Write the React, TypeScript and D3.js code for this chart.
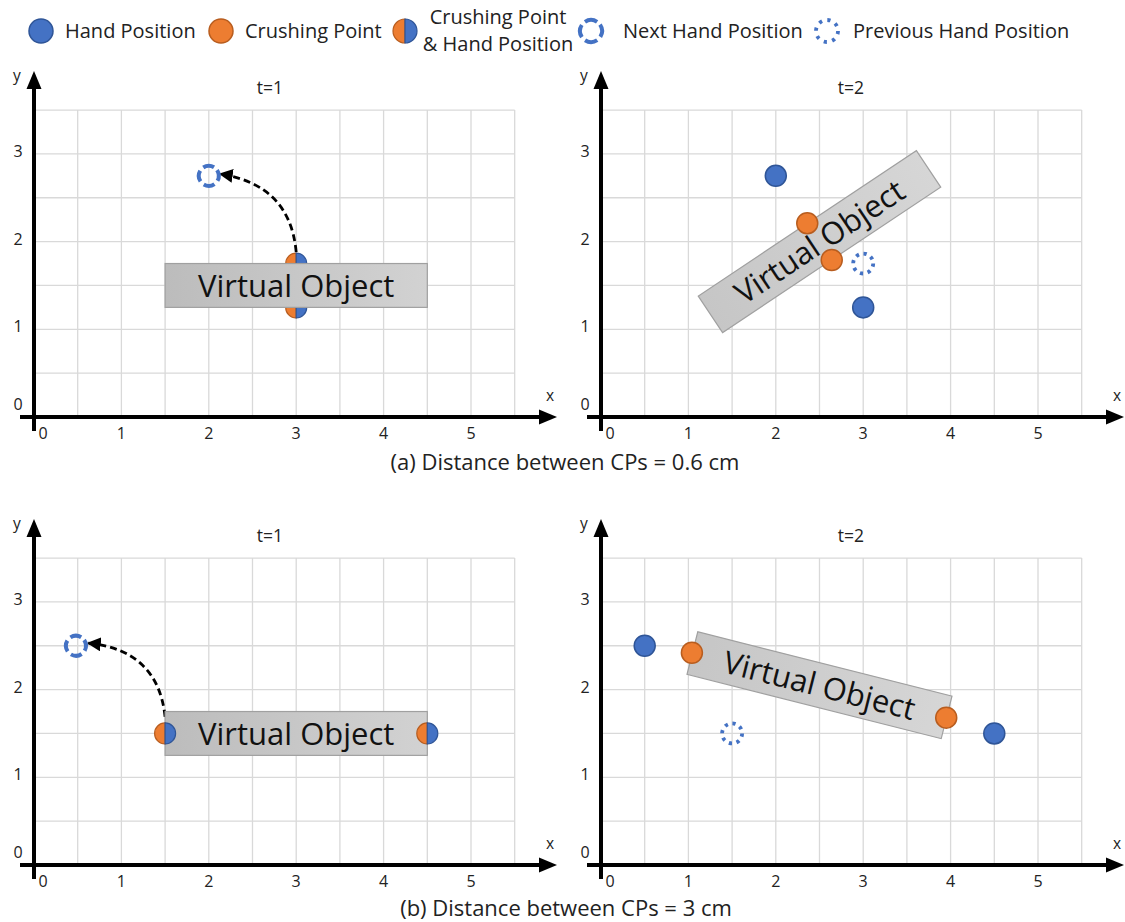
import React from "react";
import * as d3 from "d3";

// ---------- data ----------
const xTicks = [0, 1, 2, 3, 4, 5];
const yTicks = [0, 1, 2, 3];
const gridX = d3.range(0, 5.51, 0.5);
const gridY = d3.range(0, 3.51, 0.5);

const legendItems = ["Hand Position", "Crushing Point", "Crushing Point|& Hand Position", "Next Hand Position", "Previous Hand Position"];
const captions = ["(a) Distance between CPs = 0.6 cm", "(b) Distance between CPs = 3 cm"];
const titles = ["t=1", "t=2", "t=1", "t=2"];

// per panel data (x, y in chart units)
const handPts = [[], [[2, 2.75], [3, 1.25]], [], [[0.5, 2.5], [4.5, 1.5]]];
const crushPts = [[], [[2.36, 2.21], [2.64, 1.79]], [], [[1.04, 2.42], [3.95, 1.68]]];
const splitPts = [[[3, 1.75], [3, 1.25]], [], [[1.5, 1.5], [4.5, 1.5]], []];
const nextPts = [[[2, 2.75]], [], [[0.48, 2.5]], []];
const prevPts = [[], [[3, 1.75]], [], [[1.5, 1.5]]];
// virtual object: center x, center y, width, height, angle (deg, ccw)
const objects = [
  [3, 1.5, 3, 0.5, 0],
  [2.5, 2.0, 3, 0.5, 33.7],
  [3, 1.5, 3, 0.5, 0],
  [2.5, 2.05, 3, 0.5, -14.2],
];
// arrows: from, control, to
const arrows = [
  [[3, 1.88], [2.93, 2.65], [2.13, 2.77]],
  null,
  [[1.5, 1.69], [1.42, 2.45], [0.62, 2.53]],
  null,
];
const titleX = [2.7, 2.86, 2.7, 2.86];
const pointsUnderObject = [true, false, false, false];

// ---------- layout ----------
const W = 1125, H = 922;
const origins = [[34, 417], [601, 417], [34, 865], [601, 865]];
const UX = 87.4, UY = 87.7;
const FONT = "'Open Sans', sans-serif";
const BLUE = "#4472c4", BLUE_D = "#2f5597";
const ORANGE = "#ed7d31", ORANGE_D = "#b85d1f";
const R = 10.5;
const TICK_FS = 16;

function HalfCircle({ cx, cy, r }: { cx: number; cy: number; r: number }) {
  return (
    <g transform={`translate(${cx},${cy})`}>
      <path d={`M0,${-r} A${r},${r} 0 0 0 0,${r} Z`} fill={ORANGE} stroke={ORANGE_D} strokeWidth={1.2} />
      <path d={`M0,${-r} A${r},${r} 0 0 1 0,${r} Z`} fill={BLUE} stroke={BLUE_D} strokeWidth={1.2} />
    </g>
  );
}

function Dot({ cx, cy, r, fill, stroke }: any) {
  return <circle cx={cx} cy={cy} r={r} fill={fill} stroke={stroke} strokeWidth={1.5} />;
}

function NextCircle({ cx, cy, r }: any) {
  const c = 2 * Math.PI * r;
  return (
    <circle cx={cx} cy={cy} r={r} fill="none" stroke={BLUE} strokeWidth={4}
      strokeDasharray={`${c / 4 - 4.5} 4.5`} transform={`rotate(-35 ${cx} ${cy})`} />
  );
}

function PrevCircle({ cx, cy, r }: any) {
  const c = 2 * Math.PI * r;
  return (
    <circle cx={cx} cy={cy} r={r} fill="none" stroke={BLUE} strokeWidth={3.8}
      strokeDasharray={`3.2 ${c / 8 - 3.2}`} />
  );
}

function Panel({ i }: { i: number }) {
  const [ox, oy] = origins[i];
  const x = d3.scaleLinear().domain([0, 1]).range([ox, ox + UX]);
  const y = d3.scaleLinear().domain([0, 1]).range([oy, oy - UY]);
  const [ocx, ocy, ow, oh, oa] = objects[i];
  const pw = ow * UX, ph = oh * UY;
  const arrow = arrows[i];
  let arrowD = "";
  if (arrow) {
    const p = d3.path();
    p.moveTo(x(arrow[0][0]), y(arrow[0][1]));
    p.quadraticCurveTo(x(arrow[1][0]), y(arrow[1][1]), x(arrow[2][0]), y(arrow[2][1]));
    arrowD = p.toString();
  }
  const points = (
    <g>
      {splitPts[i].map((p, k) => <HalfCircle key={"s" + k} cx={x(p[0])} cy={y(p[1])} r={R} />)}
      {handPts[i].map((p, k) => <Dot key={"h" + k} cx={x(p[0])} cy={y(p[1])} r={R} fill={BLUE} stroke={BLUE_D} />)}
      {crushPts[i].map((p, k) => <Dot key={"c" + k} cx={x(p[0])} cy={y(p[1])} r={R} fill={ORANGE} stroke={ORANGE_D} />)}
      {nextPts[i].map((p, k) => <NextCircle key={"n" + k} cx={x(p[0])} cy={y(p[1])} r={10} />)}
      {prevPts[i].map((p, k) => <PrevCircle key={"p" + k} cx={x(p[0])} cy={y(p[1])} r={10} />)}
    </g>
  );
  const obj = (
    <g transform={`translate(${x(ocx)},${y(ocy)}) rotate(${-oa})`}>
      <rect x={-pw / 2} y={-ph / 2} width={pw} height={ph} fill={oa === 0 ? "url(#voGrad)" : "url(#voGrad2)"} stroke="#a0a0a0" strokeWidth={1.2} />
    </g>
  );
  const objText = (
    <g transform={`translate(${x(ocx)},${y(ocy)}) rotate(${-oa})`}>
      <text x={0} y={0} dy="0.36em" textAnchor="middle" fontFamily={FONT} fontSize={31} fill="#111">Virtual Object</text>
    </g>
  );
  return (
    <g>
      {/* grid */}
      {gridX.map((g) => (
        <line key={"gx" + g} x1={x(g)} x2={x(g)} y1={y(0)} y2={y(3.5)} stroke="#d9d9d9" strokeWidth={1.3} />
      ))}
      {gridY.map((g) => (
        <line key={"gy" + g} x1={x(0)} x2={x(5.5)} y1={y(g)} y2={y(g)} stroke="#d9d9d9" strokeWidth={1.3} />
      ))}
      {/* axes */}
      <line x1={ox - 14} x2={ox + 510} y1={oy} y2={oy} stroke="#000" strokeWidth={4} />
      <path d={`M${ox + 523},${oy} L${ox + 505},${oy - 7.5} L${ox + 505},${oy + 7.5} Z`} fill="#000" />
      <line x1={ox} x2={ox} y1={oy + 14} y2={oy - 333} stroke="#000" strokeWidth={4} />
      <path d={`M${ox},${oy - 346} L${ox - 7.5},${oy - 328} L${ox + 7.5},${oy - 328} Z`} fill="#000" />
      <text x={ox - 17} y={oy - 336} textAnchor="middle" fontFamily={FONT} fontSize={15.5} fill="#222">y</text>
      <text x={ox + 516} y={oy - 16} textAnchor="middle" fontFamily={FONT} fontSize={15.5} fill="#222">x</text>
      {xTicks.map((t) => (
        <text key={"xt" + t} x={t === 0 ? x(t) + 9 : x(t)} y={oy + 22} textAnchor="middle" fontFamily={FONT} fontSize={TICK_FS} fill="#222">{t}</text>
      ))}
      {yTicks.map((t) => (
        <text key={"yt" + t} x={ox - 16} y={t === 0 ? y(t) - 7 : y(t) + 3} textAnchor="middle" fontFamily={FONT} fontSize={TICK_FS} fill="#222">{t}</text>
      ))}
      <text x={x(titleX[i])} y={oy - 323} textAnchor="middle" fontFamily={FONT} fontSize={17.5} fill="#222">{titles[i]}</text>
      {arrow && (
        <path d={arrowD} fill="none" stroke="#000" strokeWidth={2.8} strokeDasharray="7 4" markerEnd="url(#arrowHead)" />
      )}
      {pointsUnderObject[i] ? <>{points}{obj}</> : <>{obj}{points}</>}
      {objText}
    </g>
  );
}

function Legend() {
  const cy = 31;
  return (
    <g fontFamily={FONT} fontSize={20} fill="#222">
      <Dot cx={41} cy={cy} r={12} fill={BLUE} stroke={BLUE_D} />
      <text x={65} y={cy + 7}>{legendItems[0]}</text>
      <Dot cx={221} cy={cy} r={12} fill={ORANGE} stroke={ORANGE_D} />
      <text x={245} y={cy + 7}>{legendItems[1]}</text>
      <HalfCircle cx={405} cy={cy} r={12} />
      <text x={498} y={24} textAnchor="middle">{legendItems[2].split("|")[0]}</text>
      <text x={498} y={51} textAnchor="middle">{legendItems[2].split("|")[1]}</text>
      <NextCircle cx={591} cy={cy} r={11} />
      <text x={623} y={cy + 7}>{legendItems[3]}</text>
      <PrevCircle cx={827} cy={cy} r={11} />
      <text x={853} y={cy + 7}>{legendItems[4]}</text>
    </g>
  );
}

export default function App() {
  return (
    <svg width={W} height={H} viewBox={`0 0 ${W} ${H}`} style={{ position: "absolute", left: 0, top: 0, background: "#fff" }}>
      <defs>
        <linearGradient id="voGrad" x1="0" x2="1" y1="0" y2="0">
          <stop offset="0" stopColor="#bcbcbc" />
          <stop offset="1" stopColor="#d2d2d2" />
        </linearGradient>
        <linearGradient id="voGrad2" x1="0" x2="1" y1="0" y2="0">
          <stop offset="0" stopColor="#c6c6c6" />
          <stop offset="1" stopColor="#d6d6d6" />
        </linearGradient>
        <marker id="arrowHead" viewBox="0 0 10 10" refX="9" refY="5" markerWidth="5" markerHeight="5" orient="auto" markerUnits="strokeWidth">
          <path d="M0,0 L10,5 L0,10 Z" fill="#000" />
        </marker>
      </defs>
      <rect width={W} height={H} fill="#fff" />
      <Legend />
      {[0, 1, 2, 3].map((i) => <Panel key={i} i={i} />)}
      <text x={565} y={470} textAnchor="middle" fontFamily={FONT} fontSize={22} fill="#222">{captions[0]}</text>
      <text x={566} y={916} textAnchor="middle" fontFamily={FONT} fontSize={22} fill="#222">{captions[1]}</text>
    </svg>
  );
}
